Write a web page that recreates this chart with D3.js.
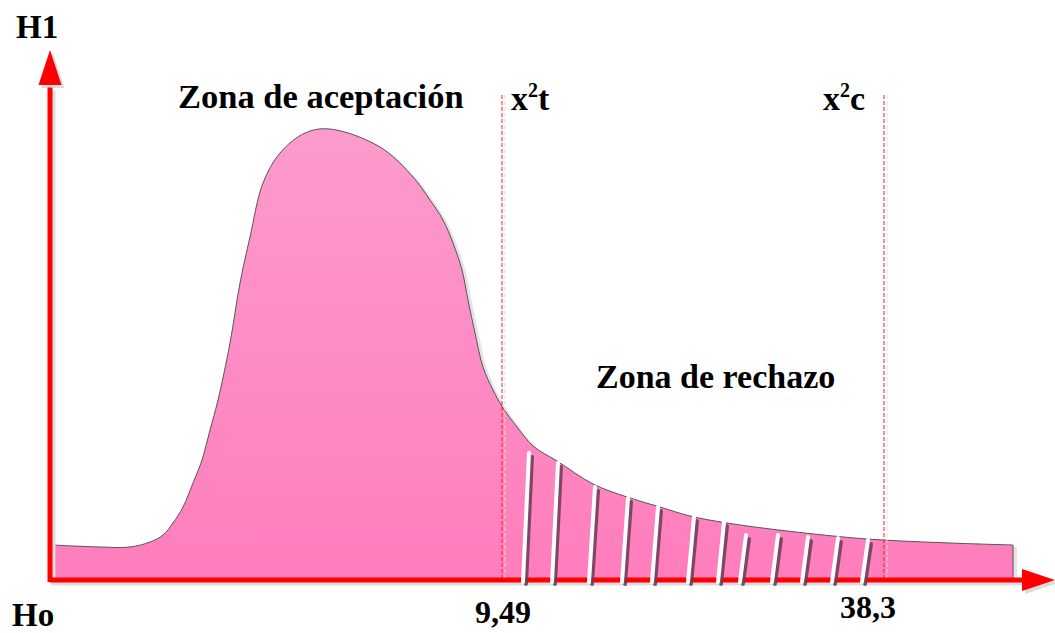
<!DOCTYPE html>
<html>
<head>
<meta charset="utf-8">
<script src="https://cdn.jsdelivr.net/npm/d3@7"></script>
<style>
  body { margin: 0; background: #fff; }
  svg { display: block; }
  text { font-family: "Liberation Serif", "Times New Roman", serif; font-weight: bold; fill: #000; }
</style>
</head>
<body>
<svg id="chart" width="1055" height="633"></svg>
<script>
// curve outline, schematic units (x 0..100, y 0..100)
var curveX = [0.3, 5, 8, 10, 11.3, 12.3, 13.3, 14.3, 15.2, 16, 16.8, 18, 19, 20, 21.3, 23, 25.5, 28, 33, 36.3, 38, 39.3, 40.3, 41.2, 41.8, 42.5, 43.3, 44.3, 45.3, 46.7, 48.3, 50.7, 54.3, 57.7, 61, 64, 67.7, 73.7, 81.7, 90, 96.3]
var curveY = [7, 6.6, 6.6, 7.6, 9, 11.4, 14.6, 19.4, 24, 30, 36, 47.4, 59.4, 68.6, 79.4, 85.4, 89.4, 90.2, 86.6, 80.6, 76, 72, 67.4, 62, 56, 49.4, 42.6, 38, 34.4, 30.6, 26.8, 23.8, 19.2, 16.6, 14.6, 12.8, 11.4, 9.8, 8.2, 7.4, 7]

// critical values
var critX = [45.2, 83.4]
var critLabels = ["9,49", "38,3"]
var critLabelX = [45.3, 81.8]
var critNames = ["t", "c"]
var critNameX = [46.1, 77.3]

// hatch marks of the rejection zone
var hatchX = [47.3, 50.2, 53.9, 57.2, 60.2, 63.8, 66.8, 69, 72.2, 75.2, 78.2, 81.2]
var hatchTop = [25.4, 23.4, 18.6, 16.4, 14.6, 12.6, 11.6, 9, 9, 8.6, 8.4, 8]

var svg = d3.select("#chart")
var x = d3.scaleLinear().domain([0, 100]).range([50, 1050])
var y = d3.scaleLinear().domain([0, 100]).range([580, 80])

var pts = curveX.map(function(d, i) { return [d, curveY[i]] })

var defs = svg.append("defs")
var grad = defs.append("linearGradient").attr("id", "pink").attr("x1", 0).attr("y1", 0).attr("x2", 0).attr("y2", 1)
grad.append("stop").attr("offset", "0%").attr("stop-color", "#fc9bcc")
grad.append("stop").attr("offset", "100%").attr("stop-color", "#ff7dbc")

var area = d3.area()
    .x(function(d) { return x(d[0]) })
    .y0(y(0))
    .y1(function(d) { return y(d[1]) })
    .curve(d3.curveCatmullRom.alpha(0.5))

// shadow of the curve
svg.append("path").attr("d", area(pts)).attr("fill", "#e4e4e4")
    .attr("transform", "translate(4,2)")
svg.append("path").attr("d", area(pts)).attr("fill", "url(#pink)")
    .attr("stroke", "#555").attr("stroke-width", 1)

// dashed critical lines
critX.forEach(function(c) {
  svg.append("line").attr("x1", x(c) + 3).attr("x2", x(c) + 3).attr("y1", y(97)).attr("y2", y(0))
      .attr("stroke", "#ddd").attr("stroke-width", 1).attr("stroke-dasharray", "4,2")
  svg.append("line").attr("x1", x(c)).attr("x2", x(c)).attr("y1", y(97)).attr("y2", y(0))
      .attr("stroke", "#ff2020").attr("stroke-width", 1).attr("stroke-dasharray", "4,2")
})

// axes with shadows
var ax = svg.append("g")
function axes(g, col, dx, dy) {
  var a = g.append("g").attr("transform", "translate(" + dx + "," + dy + ")")
  a.append("line").attr("x1", x(0)).attr("x2", x(97.5)).attr("y1", y(0)).attr("y2", y(0))
      .attr("stroke", col).attr("stroke-width", 5)
  a.append("line").attr("x1", x(0)).attr("x2", x(0)).attr("y1", y(0) + 2).attr("y2", y(98.5))
      .attr("stroke", col).attr("stroke-width", 5)
  a.append("path").attr("fill", col)
      .attr("d", "M" + x(97.2) + "," + (y(0) - 11) + "L" + x(100.5) + "," + y(0) + "L" + x(97.2) + "," + (y(0) + 11) + "Z")
  a.append("path").attr("fill", col)
      .attr("d", "M" + (x(0) - 11.5) + "," + y(99) + "L" + x(0) + "," + y(106) + "L" + (x(0) + 11.5) + "," + y(99) + "Z")
}
axes(ax, "#dcdcdc", 3, 3)
axes(ax, "#ff0000", 0, 0)

// hatch marks
var hatch = svg.append("g")
hatch.selectAll(".hs").data(hatchX).enter().append("line")
    .attr("x1", function(d) { return x(d) + 3 })
    .attr("y1", y(-0.4) + 2)
    .attr("x2", function(d) { return x(d + 0.6) + 3 })
    .attr("y2", function(d, i) { return y(hatchTop[i]) + 4 })
    .attr("stroke", "#6a3d55").attr("stroke-opacity", 0.85)
    .attr("stroke-width", 4).attr("stroke-linecap", "round")
hatch.selectAll(".hw").data(hatchX).enter().append("line")
    .attr("x1", function(d) { return x(d) })
    .attr("y1", y(-0.4))
    .attr("x2", function(d) { return x(d + 0.6) })
    .attr("y2", function(d, i) { return y(hatchTop[i]) })
    .attr("stroke", "#fff")
    .attr("stroke-width", 4).attr("stroke-linecap", "round")

// texts
svg.append("text").attr("x", 16).attr("y", 38).attr("font-size", 33).text("H1")
svg.append("text").attr("x", 12).attr("y", 626).attr("font-size", 33).text("Ho")
svg.append("text").attr("x", 178).attr("y", 108).attr("font-size", 34.5).text("Zona de aceptación")
svg.append("text").attr("x", 596).attr("y", 388).attr("font-size", 34).text("Zona de rechazo")

critNames.forEach(function(n, i) {
  var t = svg.append("text").attr("x", x(critNameX[i])).attr("y", 110).attr("font-size", 34)
  t.append("tspan").text("x")
  t.append("tspan").attr("font-size", 20).attr("dy", -13).text("2")
  t.append("tspan").attr("dy", 13).text(n)
})
critLabels.forEach(function(l, i) {
  svg.append("text").attr("x", x(critLabelX[i])).attr("y", i == 0 ? 623 : 618)
      .attr("text-anchor", "middle").attr("font-size", 32).text(l)
})
</script>
</body>
</html>
